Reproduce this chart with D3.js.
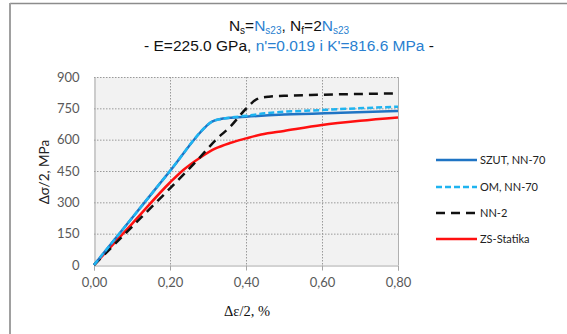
<!DOCTYPE html>
<html><head><meta charset="utf-8">
<script src="https://cdn.jsdelivr.net/npm/d3@7"></script>
<style>body{margin:0;background:#fff;} svg{display:block;}</style>
</head><body>
<svg id="c" width="567" height="334"></svg>
<script>
const xTicks = [0, 0.2, 0.4, 0.6, 0.8];
const yTicks = [0, 150, 300, 450, 600, 750, 900];
const seriesNames = ["SZUT, NN-70", "OM, NN-70", "NN-2", "ZS-Statika"];
const szut = [[0,0],[0.1,225],[0.2,450],[0.295,664],[0.305,680],[0.315,690],[0.33,698],[0.36,705],[0.40,710],[0.5,720],[0.65,729],[0.8,737]];
const om = [[0,0],[0.1,225],[0.2,450],[0.295,664],[0.305,680],[0.315,690],[0.33,698],[0.36,706],[0.40,714],[0.45,726],[0.6,742],[0.8,758]];
const nn2 = [[0,0],[0.1,183],[0.2,367],[0.28,518],[0.32,598],[0.36,665],[0.40,748],[0.43,795],[0.46,806],[0.5,810],[0.6,815],[0.8,822]];
const zs = [[0,0],[0.1,197],[0.2,395],[0.235,455],[0.28,515],[0.32,558],[0.36,585],[0.40,606],[0.44,625],[0.5,642],[0.6,670],[0.7,690],[0.8,706]];
const seriesData = [szut, om, nn2, zs];

const svg = d3.select("#c");
const X0 = 94, X1 = 398, Y0 = 265, Y1 = 77;
const x = d3.scaleLinear().domain([0, 0.8]).range([X0, X1]);
const y = d3.scaleLinear().domain([0, 900]).range([Y0, Y1]);

// outer frame
svg.append("line").attr("x1",10).attr("x2",567).attr("y1",3.5).attr("y2",3.5).attr("stroke","#8c8c8c").attr("stroke-width",1.5);
svg.append("line").attr("x1",10).attr("x2",10).attr("y1",3).attr("y2",334).attr("stroke","#a0a0a0").attr("stroke-width",2);

// plot bg
svg.append("rect").attr("x",X0).attr("y",Y1).attr("width",X1-X0).attr("height",Y0-Y1).attr("fill","#f2f2f2");

// grid
const g = svg.append("g");
g.selectAll(".hy").data(yTicks.filter(d=>d>0)).join("line")
 .attr("x1",X0).attr("x2",X1).attr("y1",d=>y(d)+0.5).attr("y2",d=>y(d)+0.5)
 .attr("stroke","#9a9a9a").attr("stroke-dasharray","1.5,1.5");
g.selectAll(".vx").data(xTicks.filter(d=>d>0 && d<0.8)).join("line")
 .attr("x1",d=>x(d)+0.5).attr("x2",d=>x(d)+0.5).attr("y1",Y1).attr("y2",Y0)
 .attr("stroke","#9a9a9a").attr("stroke-dasharray","1.5,1.5");
g.append("line").attr("x1",X1+0.5).attr("x2",X1+0.5).attr("y1",Y1).attr("y2",Y0).attr("stroke","#b0b0b0");

// axes
const xa = svg.append("g").attr("transform",`translate(0,${Y0+0.5})`)
 .call(d3.axisBottom(x).tickValues(xTicks).tickSize(5).tickPadding(7).tickFormat(d=>d3.format(".2f")(d).replace(".",",")));
xa.select(".domain").attr("stroke","#a6a6a6");
xa.selectAll(".tick line").attr("stroke","#a6a6a6");
xa.selectAll("text").attr("font-family","Lato, 'Open Sans', sans-serif").attr("font-size","13px").attr("fill","#595959");

const ya = svg.append("g").attr("transform",`translate(${X0+0.5},0)`)
 .call(d3.axisLeft(y).tickValues(yTicks).tickSize(0).tickPadding(15));
ya.select(".domain").attr("stroke","#a6a6a6");
ya.selectAll("text").attr("font-family","Lato, 'Open Sans', sans-serif").attr("font-size","13px").attr("fill","#595959");

// series
const styles = [
 {c:"#1f74c4", w:2.5, d:null},
 {c:"#1fb4f0", w:2.5, d:"6,3"},
 {c:"#111111", w:2.5, d:"9,6"},
 {c:"#ff1010", w:2.5, d:null}
];
const line = d3.line().x(d=>x(d[0])).y(d=>y(d[1])).curve(d3.curveMonotoneX);
const order = [3,2,0,1];
order.forEach(i=>{
  svg.append("path").datum(seriesData[i]).attr("d",line).attr("fill","none")
   .attr("stroke",styles[i].c).attr("stroke-width",styles[i].w)
   .attr("stroke-dasharray",styles[i].d).attr("stroke-linejoin","round");
});

// legend
const ly = [160, 187, 213, 239];
seriesNames.forEach((n,i)=>{
  svg.append("line").attr("x1",436).attr("x2",477).attr("y1",ly[i]).attr("y2",ly[i])
   .attr("stroke",styles[i].c).attr("stroke-width",2.5).attr("stroke-dasharray",styles[i].d);
  svg.append("text").attr("x",480).attr("y",ly[i]+4).text(n)
   .attr("font-family","Lato, 'Open Sans', sans-serif").attr("font-size","11px").attr("fill","#222");
});

// titles
const blue = "#2a7fd0";
const t1 = svg.append("text").attr("x",289).attr("y",31).attr("text-anchor","middle")
 .attr("font-family","'Liberation Sans', Arial, sans-serif").attr("font-size","15.5px").attr("fill","#111");
t1.append("tspan").text("N");
t1.append("tspan").text("s").attr("font-size","10px").attr("dy",3);
t1.append("tspan").text("=").attr("dy",-3);
t1.append("tspan").text("N").attr("fill",blue);
t1.append("tspan").text("s23").attr("font-size","10px").attr("dy",3).attr("fill",blue);
t1.append("tspan").text(", N").attr("dy",-3);
t1.append("tspan").text("f").attr("font-size","10px").attr("dy",3);
t1.append("tspan").text("=2").attr("dy",-3);
t1.append("tspan").text("N").attr("fill",blue);
t1.append("tspan").text("s23").attr("font-size","10px").attr("dy",3).attr("fill",blue);

const t2 = svg.append("text").attr("x",289).attr("y",51).attr("text-anchor","middle")
 .attr("font-family","'Liberation Sans', Arial, sans-serif").attr("font-size","15.5px").attr("fill","#111");
t2.append("tspan").text("- E=225.0 GPa, ");
t2.append("tspan").text("n'=0.019 i K'=816.6 MPa").attr("fill",blue);
t2.append("tspan").text(" -");

// axis labels
svg.append("text").attr("x",247).attr("y",316).attr("text-anchor","middle")
 .attr("font-family","'Liberation Serif', 'Times New Roman', serif").attr("font-size","14.5px").attr("fill","#111")
 .text("Δε/2, %");
svg.append("text").attr("transform","translate(49,172) rotate(-90)").attr("text-anchor","middle")
 .attr("font-family","Lato, 'Open Sans', sans-serif").attr("font-size","13.5px").attr("fill","#222")
 .text("Δσ/2, MPa");
</script>
</body></html>
